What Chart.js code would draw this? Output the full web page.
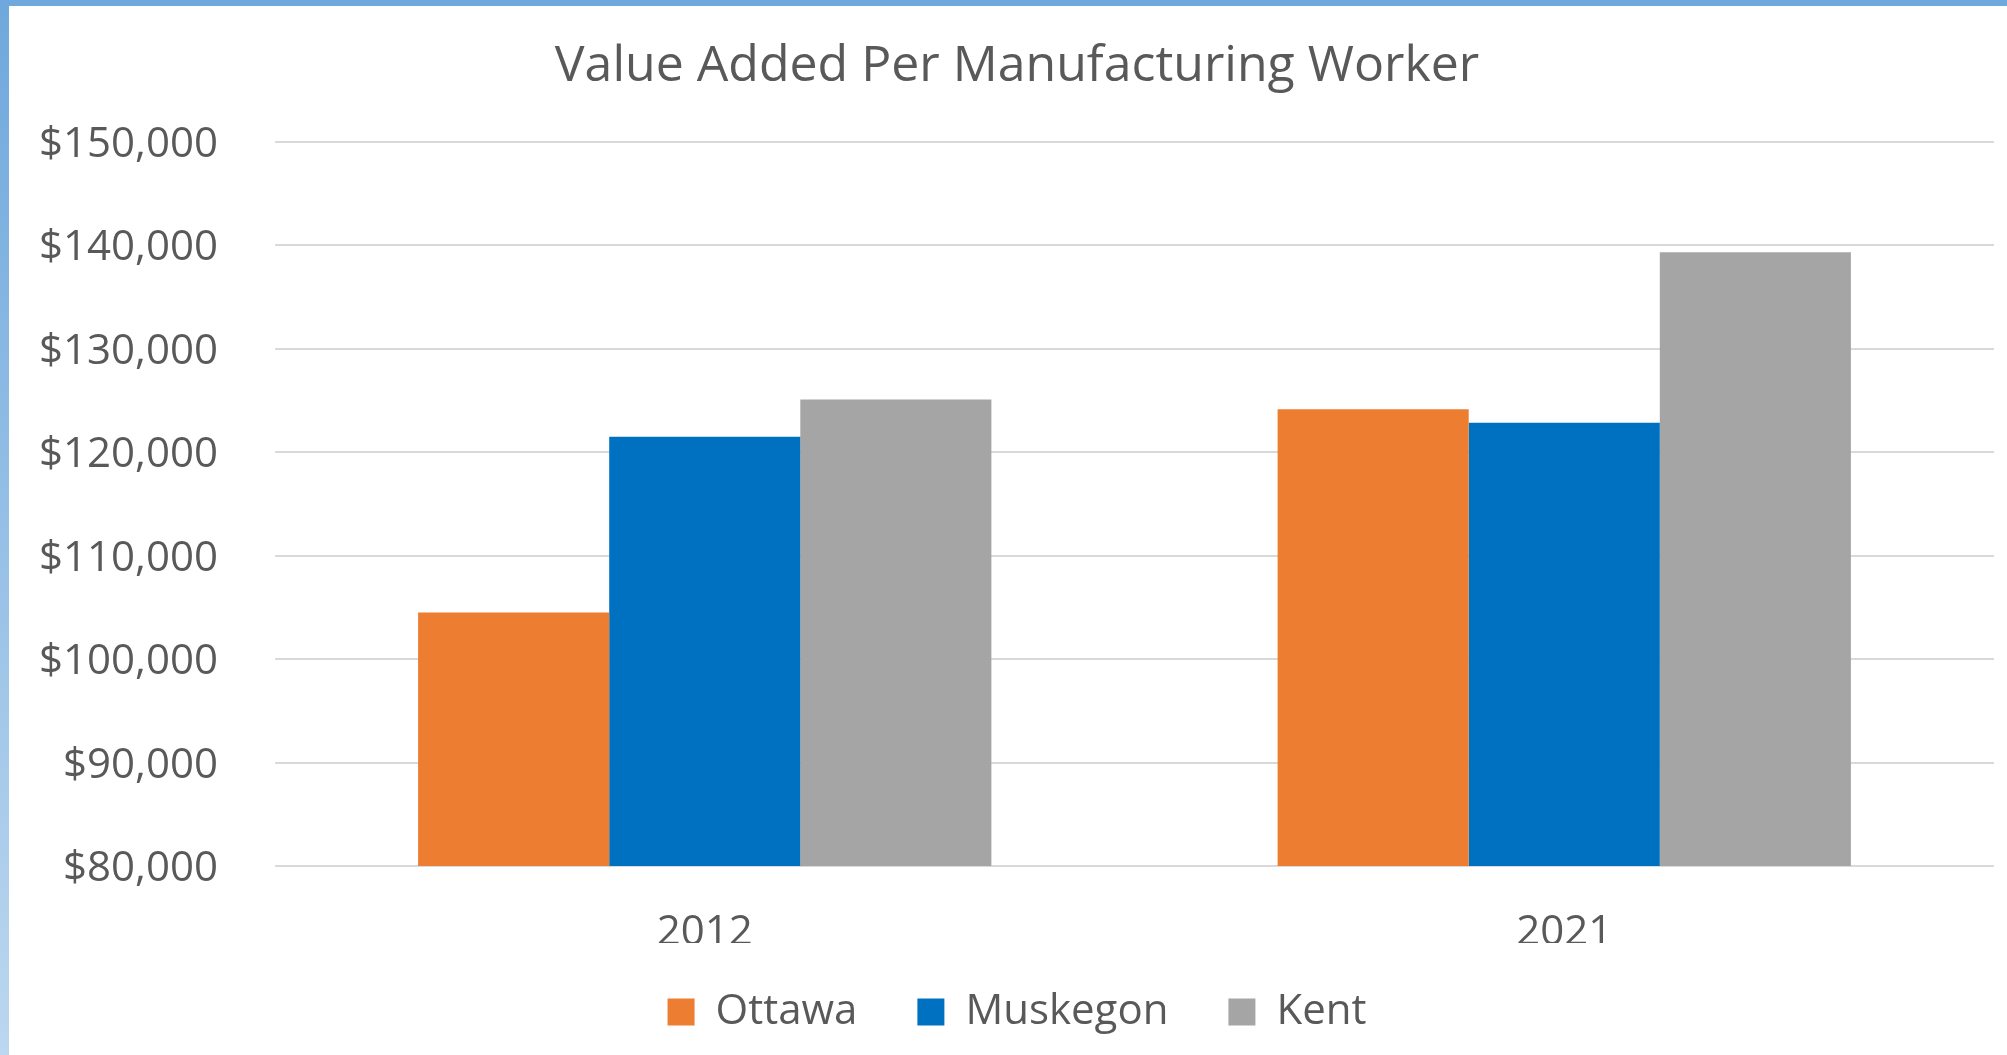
<!DOCTYPE html>
<html>
<head>
<meta charset="utf-8">
<script src="https://cdn.jsdelivr.net/npm/chart.js@4"></script>
<style>
  html, body { margin: 0; padding: 0; background: #fff; }
  #wrap { position: relative; width: 2007px; height: 1055px; }
  #topbar { position: absolute; left: 0; top: 0; width: 2007px; height: 6px; background: #6fa8dc; }
  #leftbar { position: absolute; left: 0; top: 0; width: 9px; height: 1055px;
             background: linear-gradient(#6fa8dc, #bcd7ef); }
  canvas { position: absolute; left: 0; top: 0; }
</style>
</head>
<body>
<div id="wrap">
  <canvas id="chart" width="2007" height="1055"></canvas>
  <div id="topbar"></div>
  <div id="leftbar"></div>
</div>
<script>
// data
const years = ['2012', '2021'];
const ottawa = [104500, 124150];
const muskegon = [121500, 122850];
const kent = [125100, 139350];
const yTicks = [80000, 90000, 100000, 110000, 120000, 130000, 140000, 150000];

const textColor = '#595959';
const fontFamily = '"Open Sans", sans-serif';

// legend sits closer to the axis labels than its item spacing would allow
const legendShift = {
    id: 'legendShift',
    afterLayout(chart) {
        chart.legend.top -= 12;
        chart.legend.bottom -= 12;
    }
};

var ctx = document.getElementById('chart').getContext('2d');
var chart = new Chart(ctx, {
    type: 'bar',
    data: {
        labels: years,
        datasets: [
            { label: 'Ottawa', data: ottawa, backgroundColor: '#ed7d31' },
            { label: 'Muskegon', data: muskegon, backgroundColor: '#0070c0' },
            { label: 'Kent', data: kent, backgroundColor: '#a5a5a5' }
        ]
    },
    options: {
        responsive: false,
        animation: false,
        layout: { padding: { left: 40, right: 13, top: 0, bottom: 0 } },
        datasets: {
            bar: { categoryPercentage: 0.667, barPercentage: 1.0 }
        },
        plugins: {
            title: {
                display: true,
                text: 'Value Added Per Manufacturing Worker',
                color: textColor,
                font: { family: fontFamily, size: 50, weight: 'normal' },
                padding: { top: 37, bottom: 45 }
            },
            legend: {
                position: 'bottom',
                labels: {
                    color: textColor,
                    font: { family: fontFamily, size: 42 },
                    boxWidth: 27,
                    boxHeight: 27,
                    padding: 60
                }
            },
            tooltip: { enabled: false }
        },
        scales: {
            x: {
                grid: { display: false },
                border: { display: false },
                ticks: {
                    color: textColor,
                    font: { family: fontFamily, size: 42 },
                    padding: 34
                },
                afterFit: function (scale) { scale.height = 77; }
            },
            y: {
                min: yTicks[0],
                max: yTicks[yTicks.length - 1],
                afterBuildTicks: function (scale) {
                    scale.ticks = yTicks.map(v => ({ value: v }));
                },
                grid: { color: '#d9d9d9', lineWidth: 2, drawTicks: false },
                border: { display: false },
                ticks: {
                    color: textColor,
                    font: { family: fontFamily, size: 42 },
                    padding: 57,
                    labelOffset: 3,
                    callback: v => '$' + v.toLocaleString('en-US')
                },
                afterFit: function (scale) { scale.width = 235; }
            }
        }
    },
    plugins: [legendShift]
});
</script>
</body>
</html>
